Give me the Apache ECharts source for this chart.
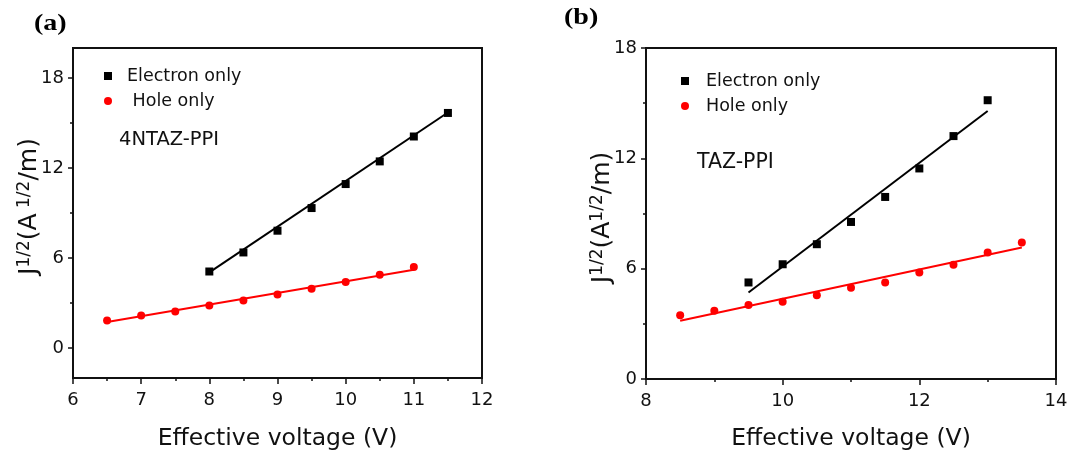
<!DOCTYPE html>
<html>
<head>
<meta charset="utf-8">
<script src="https://cdn.jsdelivr.net/npm/echarts@6/dist/echarts.min.js"></script>
<style>
  html, body { margin: 0; padding: 0; background: #fff; }
  #chart { width: 1072px; height: 456px; }
</style>
</head>
<body>
<div id="chart"></div>
<script>
// Panel (a): 4NTAZ-PPI
const voltA_e = [8, 8.5, 9, 9.5, 10, 10.5, 11, 11.5];
const jA_e = [5.1, 6.37, 7.82, 9.33, 10.93, 12.44, 14.1, 15.67];
const voltA_h = [6.5, 7, 7.5, 8, 8.5, 9, 9.5, 10, 10.5, 11];
const jA_h = [1.84, 2.17, 2.44, 2.84, 3.17, 3.57, 3.95, 4.4, 4.89, 5.4];
const fitA_e_x = [8, 11.5];
const fitA_e_y = [5.04, 15.7];
const fitA_h_x = [6.5, 11];
const fitA_h_y = [1.73, 5.22];

// Panel (b): TAZ-PPI
const voltB_e = [9.5, 10, 10.5, 11, 11.5, 12, 12.5, 13];
const jB_e = [5.25, 6.24, 7.33, 8.54, 9.9, 11.45, 13.21, 15.16];
const voltB_h = [8.5, 9, 9.5, 10, 10.5, 11, 11.5, 12, 12.5, 13, 13.5];
const jB_h = [3.47, 3.71, 4.02, 4.2, 4.56, 4.96, 5.25, 5.79, 6.21, 6.88, 7.42];
const fitB_e_x = [9.5, 13];
const fitB_e_y = [4.7, 14.57];
const fitB_h_x = [8.5, 13.5];
const fitB_h_y = [3.17, 7.15];

// Tick values and titles
const yTicksMajor = [0, 6, 12, 18];
const yTicksMinor = [3, 9, 15];
const xTitle = 'Effective voltage (V)';
const yTitleA = '{m|J}{s|1/2}{m|(A}{s| 1/2}{m|/m)}';
const yTitleB = '{m|J}{s|1/2}{m|(A}{s|1/2}{m|/m)}';

const pairs = (xs, ys) => xs.map((x, i) => [x, ys[i]]);

const FONT = '"DejaVu Sans", sans-serif';
const INK = '#111';
const RED = '#ff0000';

const nameRich = {
  m: { fontSize: 25, fontFamily: FONT, color: INK },
  s: { fontSize: 17, fontFamily: FONT, color: INK, padding: [0, 0, 9, 0] }
};

function xAxisCfg(gridIndex, min, max, interval, gap) {
  return {
    type: 'value', gridIndex, min, max, interval,
    name: xTitle, nameLocation: 'middle', nameGap: gap, nameMoveOverlap: false,
    nameTextStyle: { fontSize: 23.5, fontFamily: FONT, color: INK },
    axisLine: { show: true, onZero: false, lineStyle: { color: INK, width: 2 } },
    axisTick: { show: true, inside: false, length: 6, lineStyle: { color: INK, width: 1.5 } },
    minorTick: { show: true, splitNumber: 2, length: 3, lineStyle: { color: INK, width: 1.5 } },
    axisLabel: { fontSize: 18, fontFamily: FONT, color: INK, margin: 13 },
    splitLine: { show: false }
  };
}

// namePad shifts the rotated title along the axis
function yAxisCfg(gridIndex, min, max, title, gap, namePad) {
  return {
    type: 'value', gridIndex, min, max,
    name: title, nameLocation: 'middle', nameGap: gap, nameMoveOverlap: false,
    nameTextStyle: { rich: nameRich, padding: namePad },
    axisLine: { show: true, onZero: false, lineStyle: { color: INK, width: 2 } },
    axisTick: { show: true, inside: false, length: 5, customValues: yTicksMajor, lineStyle: { color: INK, width: 1.5 } },
    axisLabel: { fontSize: 18, fontFamily: FONT, color: INK, margin: 9, customValues: yTicksMajor },
    splitLine: { show: false }
  };
}

// Short ticks half-way between the labelled values
function yMinorCfg(gridIndex, min, max) {
  return {
    type: 'value', gridIndex, min, max, position: 'left',
    axisLine: { show: false },
    axisTick: { show: true, inside: false, length: 3, customValues: yTicksMinor, lineStyle: { color: INK, width: 1.5 } },
    axisLabel: { show: false },
    splitLine: { show: false }
  };
}

const legendStyle = gapWidth => ({ fontSize: 17.5, fontFamily: FONT, color: INK, rich: { g: { width: gapWidth } } });
const legendFmt = name => '{g| }' + name;

const option = {
  animation: false,
  backgroundColor: '#fff',
  grid: [
    { left: 73, top: 48, width: 409, height: 331, show: true, borderColor: INK, borderWidth: 2, backgroundColor: 'transparent' },
    { left: 646, top: 48, width: 410, height: 332, show: true, borderColor: INK, borderWidth: 2, backgroundColor: 'transparent' }
  ],
  xAxis: [
    xAxisCfg(0, 6, 12, 1, 49),
    xAxisCfg(1, 8, 14, 2, 48)
  ],
  yAxis: [
    yAxisCfg(0, -2, 20, yTitleA, 31, [0, 0, 0, 13]),
    yMinorCfg(0, -2, 20),
    yAxisCfg(1, 0, 18, yTitleB, 31, [0, 8, 0, 0]),
    yMinorCfg(1, 0, 18)
  ],
  legend: [
    {
      orient: 'vertical', left: 99, top: 62, itemWidth: 8, itemHeight: 8, itemGap: 7,
      textStyle: legendStyle(10), formatter: legendFmt, selectedMode: false,
      data: [{ name: 'Electron only', icon: 'rect' }, { name: ' Hole only', icon: 'circle' }]
    },
    {
      orient: 'vertical', left: 676, top: 67, itemWidth: 8, itemHeight: 8, itemGap: 7,
      textStyle: legendStyle(12), formatter: legendFmt, selectedMode: false,
      data: [{ name: 'Electron only', icon: 'rect' }, { name: 'Hole only', icon: 'circle' }]
    }
  ],
  graphic: [
    { type: 'text', left: 34, top: 13, scaleX: 1.22, style: { text: '(a)', font: 'bold 23px "Liberation Serif", serif', fill: '#000' } },
    { type: 'text', left: 564, top: 7, scaleX: 1.22, style: { text: '(b)', font: 'bold 23px "Liberation Serif", serif', fill: '#000' } },
    { type: 'text', left: 119, top: 130, style: { text: '4NTAZ-PPI', font: '19.5px ' + FONT, fill: INK } },
    { type: 'text', left: 697, top: 152, style: { text: 'TAZ-PPI', font: '20.5px ' + FONT, fill: INK } }
  ],
  series: [
    // (a) fitted lines
    { type: 'line', xAxisIndex: 0, yAxisIndex: 0, data: pairs(fitA_e_x, fitA_e_y), showSymbol: false, lineStyle: { color: '#000', width: 2 }, silent: true, z: 2 },
    { type: 'line', xAxisIndex: 0, yAxisIndex: 0, data: pairs(fitA_h_x, fitA_h_y), showSymbol: false, lineStyle: { color: RED, width: 2 }, silent: true, z: 2 },
    // (a) measured points
    { name: 'Electron only', type: 'scatter', xAxisIndex: 0, yAxisIndex: 0, data: pairs(voltA_e, jA_e), symbol: 'rect', symbolSize: 8, itemStyle: { color: '#000', opacity: 1 }, z: 3 },
    { name: ' Hole only', type: 'scatter', xAxisIndex: 0, yAxisIndex: 0, data: pairs(voltA_h, jA_h), symbol: 'circle', symbolSize: 8, itemStyle: { color: RED, opacity: 1 }, z: 3 },
    // (b) fitted lines
    { type: 'line', xAxisIndex: 1, yAxisIndex: 2, data: pairs(fitB_e_x, fitB_e_y), showSymbol: false, lineStyle: { color: '#000', width: 2 }, silent: true, z: 2 },
    { type: 'line', xAxisIndex: 1, yAxisIndex: 2, data: pairs(fitB_h_x, fitB_h_y), showSymbol: false, lineStyle: { color: RED, width: 2 }, silent: true, z: 2 },
    // (b) measured points
    { name: 'Electron only', type: 'scatter', xAxisIndex: 1, yAxisIndex: 2, data: pairs(voltB_e, jB_e), symbol: 'rect', symbolSize: 8, itemStyle: { color: '#000', opacity: 1 }, z: 3 },
    { name: 'Hole only', type: 'scatter', xAxisIndex: 1, yAxisIndex: 2, data: pairs(voltB_h, jB_h), symbol: 'circle', symbolSize: 8, itemStyle: { color: RED, opacity: 1 }, z: 3 }
  ]
};

const chart = echarts.init(document.getElementById('chart'), null, { renderer: 'canvas' });
chart.setOption(option);
</script>
</body>
</html>
